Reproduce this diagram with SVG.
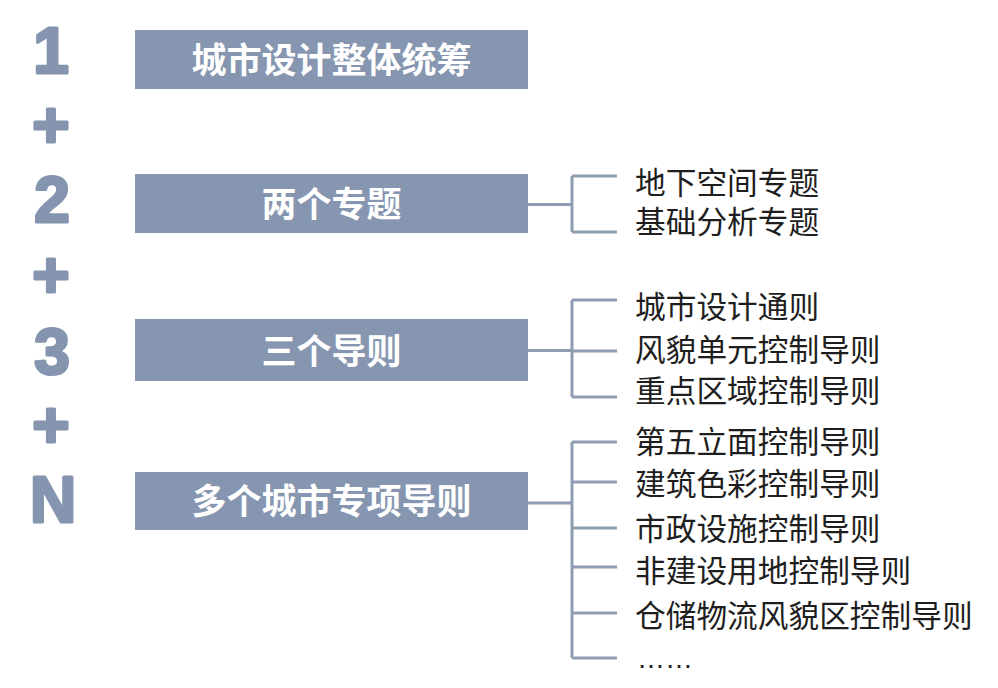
<svg xmlns="http://www.w3.org/2000/svg" width="998" height="688" viewBox="0 0 998 688">
<style>
.num{font-family:"Liberation Sans",Arial,sans-serif;font-weight:bold;font-size:64px;fill:#8595AF;stroke:#8595AF;stroke-width:3;stroke-linejoin:round;text-anchor:middle}
.box{fill:#8696B0}
.bt{font-family:"Noto Sans CJK SC",sans-serif;font-weight:bold;font-size:35px;fill:#FFFFFF;text-anchor:middle}
.it{font-family:"Noto Sans CJK SC",sans-serif;font-size:30.7px;fill:#1E1E1E}
.ln{fill:none;stroke:#8F9DB3;stroke-width:3}
</style>
<rect width="998" height="688" fill="#FFFFFF"/>
<g id="labels">
<text class="num" x="51" y="73">1</text>
<text class="num" x="51" y="147">+</text>
<text class="num" x="52" y="222">2</text>
<text class="num" x="51" y="297">+</text>
<text class="num" x="52" y="374">3</text>
<text class="num" x="51" y="447">+</text>
<text class="num" x="53" y="522">N</text>
</g>
<g id="connectors">
<path class="ln" d="M528 204.5H572M572 176V232M572 176H617M572 232H617"/>
<path class="ln" d="M528 350.5H572M572 300V397M572 300H617M572 351H617M572 397H617"/>
<path class="ln" d="M528 503H572M572 442V658M572 442H617M572 482H617M572 528H617M572 567H617M572 613H617M572 658H617"/>
</g>
<g id="node1">
<rect class="box" x="135" y="30" width="393" height="59"/>
<text class="bt" x="331.5" y="73">城市设计整体统筹</text>
</g>
<g id="node2">
<rect class="box" x="135" y="174" width="393" height="59"/>
<text class="bt" x="331.5" y="217">两个专题</text>
</g>
<g id="node3">
<rect class="box" x="135" y="319" width="393" height="62"/>
<text class="bt" x="331.5" y="364">三个导则</text>
</g>
<g id="node4">
<rect class="box" x="135" y="472" width="393" height="58"/>
<text class="bt" x="331.5" y="514">多个城市专项导则</text>
</g>
<g id="items2">
<text class="it" x="635" y="194">地下空间专题</text>
<text class="it" x="635" y="232.5">基础分析专题</text>
</g>
<g id="items3">
<text class="it" x="635" y="317.5">城市设计通则</text>
<text class="it" x="635" y="360.5">风貌单元控制导则</text>
<text class="it" x="635" y="401.5">重点区域控制导则</text>
</g>
<g id="itemsN">
<text class="it" x="635" y="452.5">第五立面控制导则</text>
<text class="it" x="635" y="494.5">建筑色彩控制导则</text>
<text class="it" x="635" y="539.5">市政设施控制导则</text>
<text class="it" x="635" y="581.5">非建设用地控制导则</text>
<text class="it" x="635" y="626.5">仓储物流风貌区控制导则</text>
<text class="it" x="637" y="668" style="font-family:'Liberation Sans',sans-serif;font-size:28px">……</text>
</g>
</svg>
